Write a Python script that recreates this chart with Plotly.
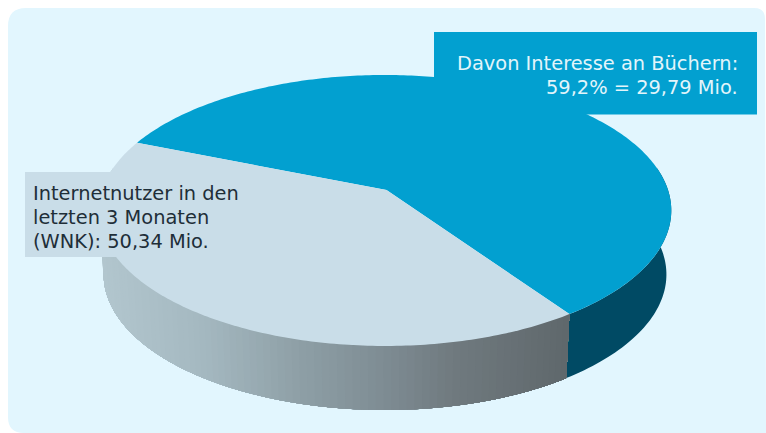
import numpy as np
import plotly.graph_objects as go

# Survey figures, in millions of people
total_users = 50.34
interested_in_books = 29.79
slice_names = ["Interesse an Büchern", "Übrige Internetnutzer"]
slice_values = [interested_in_books, total_users - interested_in_books]

label_blue = ["Davon Interesse an Büchern:", "59,2% = 29,79 Mio."]
label_grey = ["Internetnutzer in den", "letzten 3 Monaten", "(WNK): 50,34 Mio."]

BLUE_TOP = "#02a0d0"
GREY_TOP = "#c9dde8"
BLUE_WALL = "#004a64"

# Disc projection (pixel space of a 766x433 canvas)
HUB_X, CX, CY = 386.5, 385.0, 190.0
RX, RY, TILT = 283.0, 132.4, 0.151
DEPTH = 64.0
BOTTOM_SCALE = 0.983
START_DEG = -55.2


def rim(angle_deg):
    """Perspective projection of points on the top rim of the disc."""
    t = np.radians(angle_deg)
    u, v = np.cos(t), np.sin(t)
    w = 1 + TILT * v
    return CX + RX * u / w, CY - RY * v / w


def lower(x, y):
    return CX + (x - CX) * BOTTOM_SCALE, y + DEPTH


def grey_side(x):
    stops_x = [100, 200, 300, 385, 450, 570]
    stops_c = np.array([
        [178, 198, 206], [164, 184, 192], [141, 158, 165],
        [125, 139, 146], [112, 122, 127], [94, 103, 107],
    ])
    rgb = [np.interp(x, stops_x, stops_c[:, i]) for i in range(3)]
    return "rgb(%d,%d,%d)" % tuple(round(c) for c in rgb)


def filled(xs, ys, colour, name):
    return go.Scatter(
        x=xs, y=ys, mode="none", fill="toself", fillcolor=colour,
        hoverinfo="skip", showlegend=False, name=name,
    )


share = slice_values[0] / sum(slice_values)
blue_end = START_DEG + 360 * share
fig = go.Figure()

# Front wall: dark band for the blue slice, shaded strips for the grey one
wall_blue = np.linspace(START_DEG, 10, 60)
x, y = rim(wall_blue)
bx, by = lower(x, y)
fig.add_trace(filled(np.r_[x, bx[::-1], x[0]], np.r_[y, by[::-1], y[0]], BLUE_WALL, slice_names[0]))

# Each strip runs on to the end of the wall, so later strips cover its far edge
wall_grey = np.linspace(170 - 360, START_DEG, 101)
for a0 in wall_grey[:-1]:
    seg = np.linspace(a0, START_DEG, 40)
    x, y = rim(seg)
    bx, by = lower(x, y)
    fig.add_trace(filled(
        np.r_[x, bx[::-1], x[0]], np.r_[y, by[::-1], y[0]],
        grey_side(x[0]), slice_names[1],
    ))

# Top face
t = np.linspace(START_DEG, blue_end, 240)
x, y = rim(t)
fig.add_trace(filled(np.r_[HUB_X, x, HUB_X], np.r_[CY, y, CY], BLUE_TOP, slice_names[0]))
t = np.linspace(blue_end, START_DEG + 360, 180)
x, y = rim(t)
fig.add_trace(filled(np.r_[HUB_X, x, HUB_X], np.r_[CY, y, CY], GREY_TOP, slice_names[1]))

annotations = []
for text, ypos in zip(label_blue, [63, 87]):
    annotations.append(dict(
        x=740, y=ypos, text=text, xanchor="right", yanchor="middle", showarrow=False,
        font=dict(family="DejaVu Sans", size=19.4, color="#e3f5fb"),
    ))
for text, ypos in zip(label_grey, [193, 217, 241]):
    annotations.append(dict(
        x=31, y=ypos, text=text, xanchor="left", yanchor="middle", showarrow=False,
        font=dict(family="DejaVu Sans", size=19.4, color="#1e2e38"),
    ))

shapes = [
    dict(type="path", layer="below", line_width=0, fillcolor="#e2f6fe",
         path="M 8 26 Q 8 8 26 8 L 754 8 Q 765 8 765 19 L 766 433 L 24 433 Q 8 433 8 417 Z"),
    dict(type="rect", layer="above", line_width=0, fillcolor=BLUE_TOP, x0=434, x1=757, y0=32, y1=114.5),
    dict(type="rect", layer="above", line_width=0, fillcolor=GREY_TOP, x0=25, x1=278, y0=172, y1=257),
]

fig.update_layout(
    width=766, height=433, margin=dict(l=0, r=0, t=0, b=0),
    paper_bgcolor="white", plot_bgcolor="rgba(0,0,0,0)", showlegend=False,
    xaxis=dict(range=[0, 766], visible=False, fixedrange=True),
    yaxis=dict(range=[433, 0], visible=False, fixedrange=True),
    shapes=shapes, annotations=annotations,
)
fig.write_html("out.html", config=dict(displayModeBar=False))
